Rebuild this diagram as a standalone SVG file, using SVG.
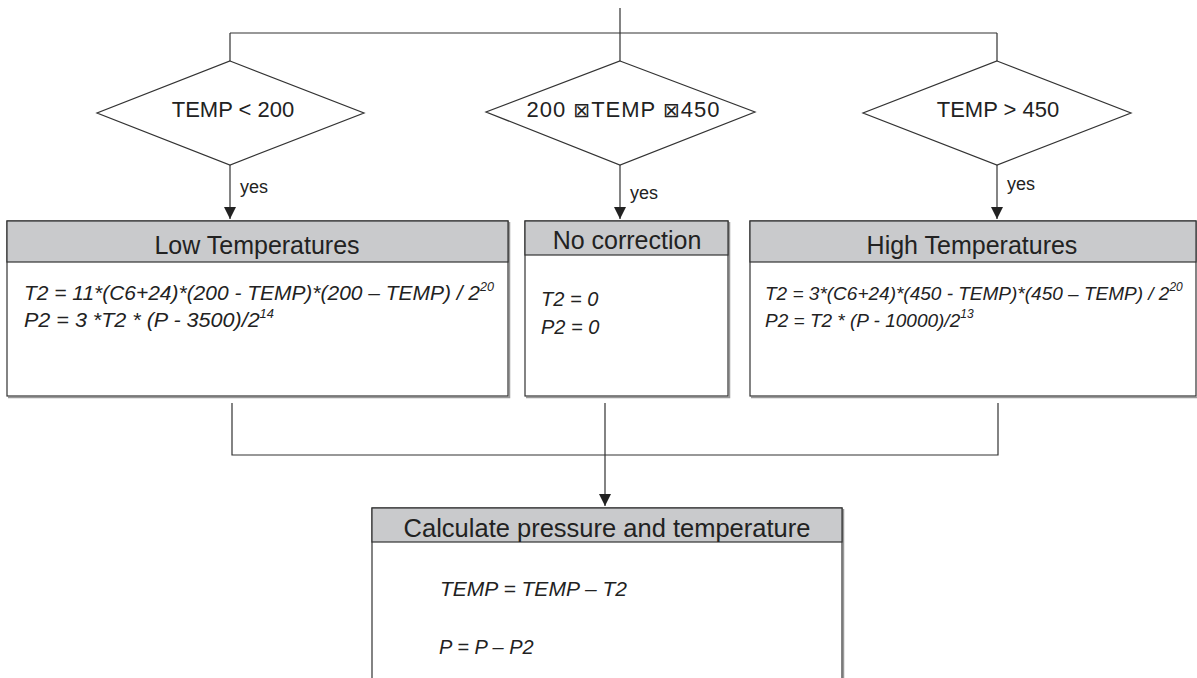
<svg xmlns="http://www.w3.org/2000/svg" width="1197" height="678" viewBox="0 0 1197 678">
<defs>
<marker id="arr" markerWidth="12" markerHeight="12" refX="10" refY="5" orient="auto" markerUnits="userSpaceOnUse" viewBox="0 0 10 10">
<path d="M0,0 L10,5 L0,10 z" fill="#222"/>
</marker>
<style>
.ln{fill:none;stroke:#333;stroke-width:1.2}
.dm{fill:#fff;stroke:#333;stroke-width:1.2}
.box{fill:#fff;stroke:#333;stroke-width:1.2}
.shd{fill:none;stroke:#999;stroke-width:1.5}
.hdr{fill:#c9cacc;stroke:#333;stroke-width:1.2}
.dt{font-family:"Liberation Sans",Arial,sans-serif;font-size:22px;fill:#222;text-anchor:middle}
.ht{font-family:"Liberation Sans",Arial,sans-serif;font-size:25px;fill:#222;text-anchor:middle}
.yes{font-family:"Liberation Sans",Arial,sans-serif;font-size:18px;fill:#222}
.fm{font-family:"Liberation Sans",Arial,sans-serif;font-size:20px;font-style:italic;fill:#222}
.fs{font-size:19px}
.sup{font-size:12px}
.bx{font-family:"DejaVu Sans",sans-serif;font-size:20px}
</style>
</defs>

<g id="connectors">
<path class="ln" d="M620,8 V33 M230,33 H997 M230,33 V61 M620,33 V61 M997,33 V61"/>
<path class="ln" d="M230,165 V219" marker-end="url(#arr)"/>
<path class="ln" d="M620,165 V219" marker-end="url(#arr)"/>
<path class="ln" d="M997,165 V219" marker-end="url(#arr)"/>
<text class="yes" x="240" y="193">yes</text>
<text class="yes" x="630" y="199">yes</text>
<text class="yes" x="1007" y="190">yes</text>
<path class="ln" d="M232,403 V455 H998 V403 M605,403 V506" marker-end="url(#arr)"/>
</g>

<g id="d1">
<polygon class="dm" points="230,61 364,113 230,165 97,113"/>
<text class="dt" x="233" y="117">TEMP &lt; 200</text>
</g>
<g id="d2">
<polygon class="dm" points="620,61 755,112 620,165 486,112"/>
<text class="dt" x="623" y="117" textLength="193" lengthAdjust="spacing">200 <tspan class="bx">⊠</tspan>TEMP <tspan class="bx">⊠</tspan>450</text>
</g>
<g id="d3">
<polygon class="dm" points="997,61 1131,113 997,165 863,113"/>
<text class="dt" x="998" y="117">TEMP &gt; 450</text>
</g>

<g id="low">
<path class="shd" d="M8,397.5 H509.5 V222"/>
<rect class="box" x="7" y="221" width="501" height="175"/>
<rect class="hdr" x="7" y="221" width="501" height="41"/>
<text class="ht" x="257" y="254">Low Temperatures</text>
<text class="fm" x="24" y="300" textLength="470" lengthAdjust="spacingAndGlyphs">T2 = 11*(C6+24)*(200 - TEMP)*(200 – TEMP) / 2<tspan class="sup" dy="-9">20</tspan></text>
<text class="fm" x="24" y="327" textLength="250" lengthAdjust="spacingAndGlyphs">P2 = 3 *T2 * (P - 3500)/2<tspan class="sup" dy="-9">14</tspan></text>
</g>

<g id="none">
<path class="shd" d="M526,397.5 H729.5 V222"/>
<rect class="box" x="525" y="221" width="203" height="175"/>
<rect class="hdr" x="525" y="221" width="203" height="34"/>
<text class="ht" x="627" y="249">No correction</text>
<text class="fm" x="541" y="306">T2 = 0</text>
<text class="fm" x="541" y="334">P2 = 0</text>
</g>

<g id="high">
<path class="shd" d="M751,397.5 H1197"/>
<rect class="box" x="750" y="221" width="446" height="175"/>
<rect class="hdr" x="750" y="221" width="446" height="41"/>
<text class="ht" x="972" y="254">High Temperatures</text>
<text class="fm fs" x="765" y="300">T2 = 3*(C6+24)*(450 - TEMP)*(450 – TEMP) / 2<tspan class="sup" dy="-9">20</tspan></text>
<text class="fm fs" x="765" y="327">P2 = T2 * (P - 10000)/2<tspan class="sup" dy="-9">13</tspan></text>
</g>

<g id="calc">
<path class="shd" d="M843.5,509 V678"/>
<rect class="box" x="372" y="508" width="470" height="175"/>
<rect class="hdr" x="372" y="508" width="470" height="34"/>
<text class="ht" x="607" y="537" style="font-size:25.5px">Calculate pressure and temperature</text>
<text class="fm" x="440" y="596" textLength="187" lengthAdjust="spacingAndGlyphs">TEMP = TEMP – T2</text>
<text class="fm" x="439" y="654">P = P – P2</text>
</g>
</svg>
